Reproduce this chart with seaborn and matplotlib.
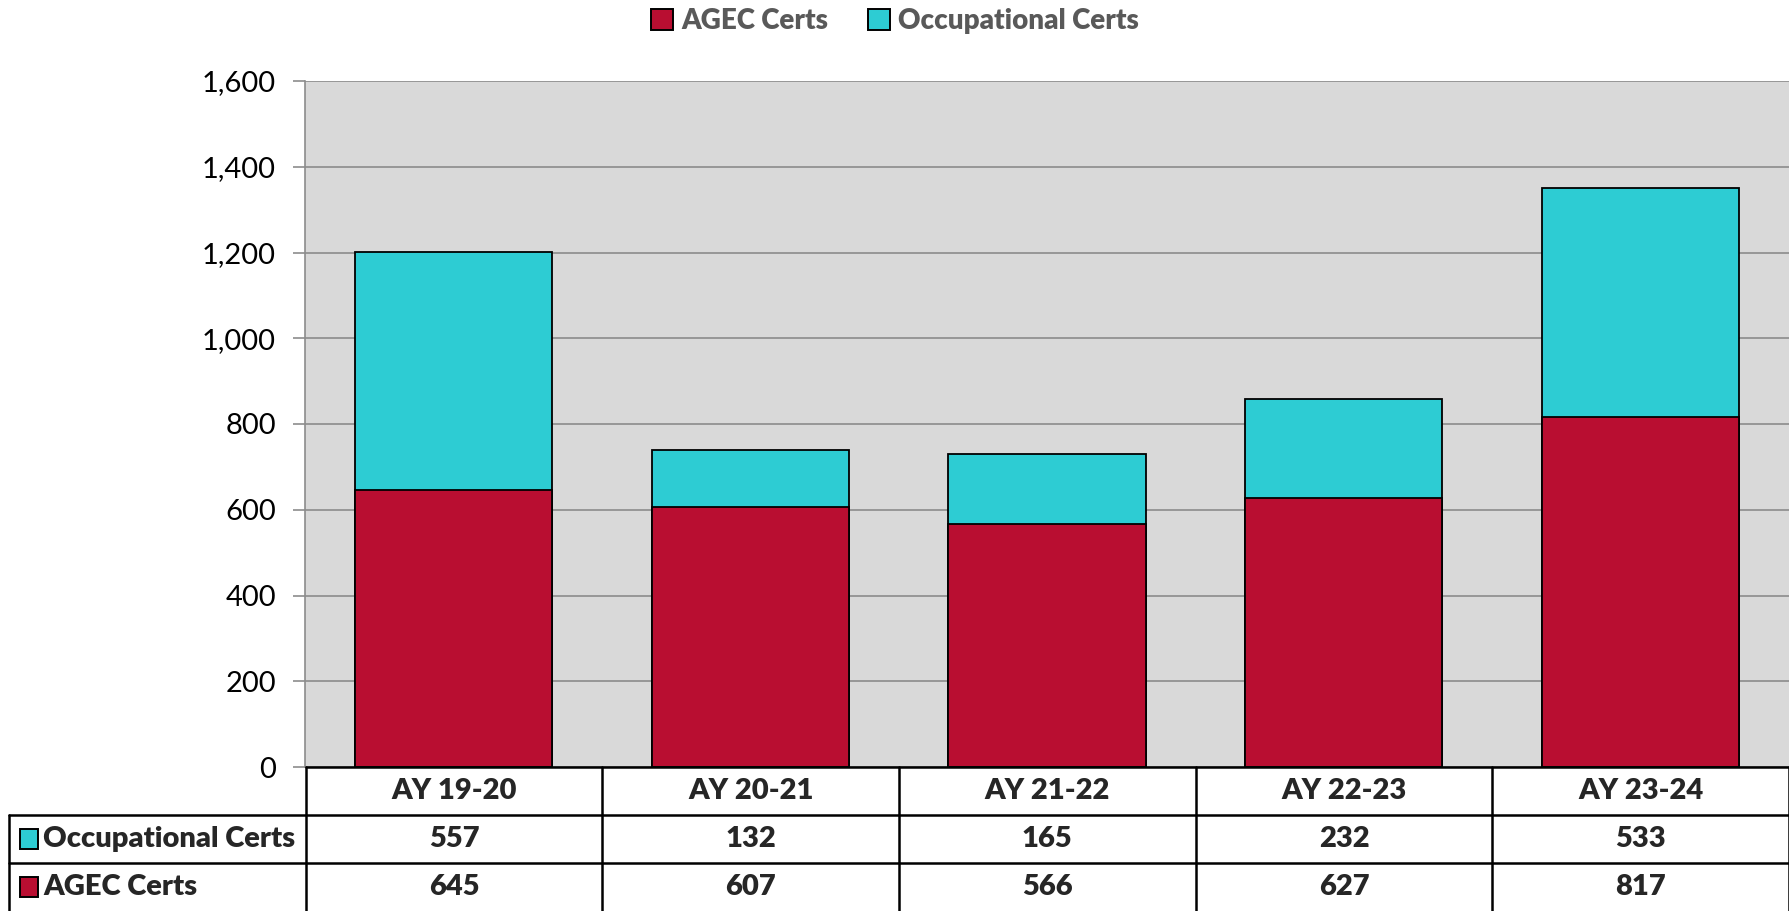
import matplotlib.pyplot as plt
import matplotlib.ticker as mticker
from matplotlib.patches import Patch, Rectangle
import seaborn as sns
import pandas as pd

# Data
years = ["AY 19-20", "AY 20-21", "AY 21-22", "AY 22-23", "AY 23-24"]
agec = [645, 607, 566, 627, 817]
occupational = [557, 132, 165, 232, 533]

RED = "#B90E31"
CYAN = "#2DCCD3"
GRID = "#8C8C8C"

sns.set_style("white")
plt.rcParams["font.family"] = ["Lato", "DejaVu Sans"]

df = pd.DataFrame({"year": years, "agec": agec, "occ": occupational})
df["total"] = df["agec"] + df["occ"]

W, H = 1789, 911
fig = plt.figure(figsize=(W / 100, H / 100), dpi=100)

# main plot area
ax = fig.add_axes([305 / W, (H - 767) / H, (W - 305) / W, (767 - 81) / H])
ax.set_facecolor("#D9D9D9")
sns.barplot(data=df, x="year", y="total", color=CYAN, edgecolor="black",
            linewidth=1.3, width=0.665, saturation=1, ax=ax, zorder=3)
sns.barplot(data=df, x="year", y="agec", color=RED, edgecolor="black",
            linewidth=1.3, width=0.665, saturation=1, ax=ax, zorder=4)
ax.set_xlim(-0.5, len(years) - 0.5)
ax.set_ylim(0, 1600)
ax.yaxis.set_major_locator(mticker.MultipleLocator(200))
ax.yaxis.set_major_formatter(mticker.StrMethodFormatter("{x:,.0f}"))
ax.grid(axis="y", color=GRID, linewidth=1.2, zorder=0)
ax.set_axisbelow(True)
ax.set_xticks([])
ax.set_xlabel("")
ax.set_ylabel("")
for s in ["top", "right", "bottom"]:
    ax.spines[s].set_visible(False)
ax.spines["left"].set_color(GRID)
ax.spines["left"].set_linewidth(1.2)
ax.tick_params(axis="y", left=True, length=9, width=1.2, color=GRID,
               labelsize=21, pad=12, labelcolor="black")

# data table below the plot, sharing category positions (rows 48 px high)
tab_h = H - 767
tax = fig.add_axes([9 / W, 0, (W - 9) / W, tab_h / H])
tax.set_xlim(-1.5, len(years) - 0.5)
tax.set_ylim(tab_h / 48, 0)
tax.axis("off")
lw = 1.8
fs = 21
wt = "heavy"
rows = [("Occupational Certs", CYAN, occupational), ("AGEC Certs", RED, agec)]
for i, y in enumerate(years):
    tax.text(i, 0.5, y, ha="center", va="center", fontsize=fs, fontweight=wt)
tax.plot([-0.5, len(years) - 0.5], [0, 0], color="black", lw=lw, clip_on=False)
tax.plot([-1.5, len(years) - 0.5], [1, 1], color="black", lw=lw, clip_on=False)
tax.plot([-1.5, len(years) - 0.5], [2, 2], color="black", lw=lw, clip_on=False)
for i in range(len(years) + 1):
    tax.plot([i - 0.5, i - 0.5], [0, 4], color="black", lw=lw, clip_on=False)
tax.plot([-1.5, -1.5], [1, 4], color="black", lw=lw, clip_on=False)
for r, (name, col, vals) in enumerate(rows):
    yc = r + 1.5
    tax.add_patch(Rectangle((-1.462, yc - 0.2), 0.06, 0.4, facecolor=col,
                            edgecolor="black", lw=1.4, clip_on=False))
    tax.text(-1.385, yc, name, ha="left", va="center", fontsize=fs, fontweight=wt)
    for i, v in enumerate(vals):
        tax.text(i, yc, f"{v:,}", ha="center", va="center", fontsize=fs, fontweight=wt)

# legend
handles = [Patch(facecolor=RED, edgecolor="black", linewidth=1.4, label="AGEC Certs"),
           Patch(facecolor=CYAN, edgecolor="black", linewidth=1.4, label="Occupational Certs")]
leg = fig.legend(handles=handles, loc="center", bbox_to_anchor=(895 / W, 1 - 21 / H),
                 ncol=2, frameon=False, handlelength=0.8, handleheight=0.8,
                 handletextpad=0.3, columnspacing=1.4,
                 prop={"size": 20, "weight": wt})
for t in leg.get_texts():
    t.set_color("#595959")

fig.savefig("out.png", dpi=100)
